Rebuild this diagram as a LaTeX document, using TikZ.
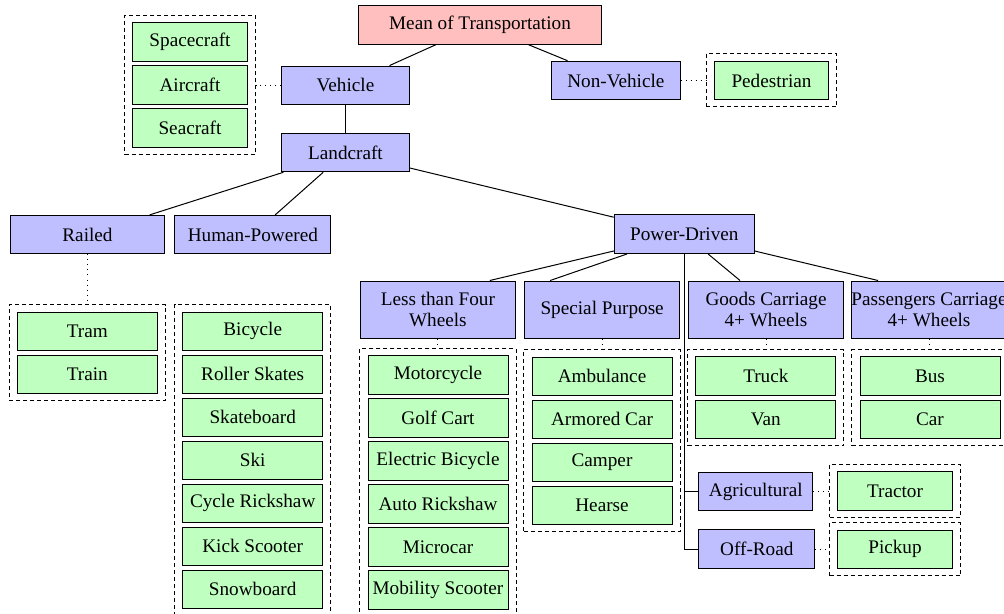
\documentclass[tikz,border=0pt]{standalone}
\usepackage{fontspec}
\setmainfont{Liberation Serif}
\usetikzlibrary{fit,calc}
\definecolor{cred}{RGB}{255,191,191}
\definecolor{cblue}{RGB}{191,191,255}
\definecolor{cgreen}{RGB}{191,255,191}
\begin{document}
\begin{tikzpicture}[x=0.5pt,y=-0.5pt,
  boxbase/.style={draw=black, line width=0.5pt, inner sep=0pt, align=center,
                  font=\fontsize{9.6}{10.6}\selectfont},
  redbox/.style={boxbase, fill=cred, minimum height=19.2pt},
  bluebox/.style={boxbase, fill=cblue, minimum height=19.3pt},
  tallbox/.style={boxbase, fill=cblue, minimum width=77.8pt, minimum height=28.7pt},
  leaf/.style={boxbase, fill=cgreen, minimum width=70pt, minimum height=19.2pt},
  smallleaf/.style={boxbase, fill=cgreen, minimum width=57.3pt, minimum height=19.2pt},
  grpbox/.style={draw=black, dash pattern=on 2pt off 1.5pt, line width=0.5pt,
                 inner xsep=3.8pt, inner ysep=3.4pt},
  solidlink/.style={line width=0.5pt},
  dotlink/.style={line width=0.5pt, dotted}]

\useasboundingbox (0,0) rectangle (1004,614);
\clip (0,0) rectangle (1004,614);

% top levels
\node[redbox, minimum width=121.7pt] (mean) at (480,24.85) {Mean of Transportation};
\node[bluebox, minimum width=63.8pt] (veh) at (345.5,85.35) {Vehicle};
\node[bluebox, minimum width=63.8pt] (land) at (345.5,152.5) {Landcraft};
\node[bluebox, minimum width=64.2pt] (nonveh) at (615.85,80.5) {Non-Vehicle};

\node[smallleaf] (ped) at (771.5,80.5) {Pedestrian};
\node[grpbox, fit=(ped)] (pedgrp) {};

\node[smallleaf] (space) at (190,42.2) {Spacecraft};
\node[smallleaf] (air) at (190,85.2) {Aircraft};
\node[smallleaf] (sea) at (190,128.2) {Seacraft};
\node[grpbox, fit=(space)(sea)] (airgrp) {};

% level 2
\node[bluebox, minimum width=76.8pt] (railed) at (87.5,234.7) {Railed};
\node[bluebox, minimum width=77.9pt] (human) at (252.85,234.7) {Human-Powered};
\node[bluebox, minimum width=70pt] (power) at (684.3,234.2) {Power-Driven};

% railed leaves
\node[leaf] (tram) at (87.3,331.2) {Tram};
\node[leaf] (train) at (87.3,374.2) {Train};
\node[grpbox, fit=(tram)(train)] (railgrp) {};

% human-powered leaves
\node[leaf] (bicycle) at (252.7,331.2) {Bicycle};
\node[leaf] (roller) at (252.7,374.2) {Roller Skates};
\node[leaf] (skate) at (252.7,417.2) {Skateboard};
\node[leaf] (ski) at (252.7,460.2) {Ski};
\node[leaf] (cycler) at (252.7,503.2) {Cycle Rickshaw};
\node[leaf] (kick) at (252.7,546.2) {Kick Scooter};
\node[leaf] (snow) at (252.7,589.2) {Snowboard};
\node[grpbox, fit=(bicycle)(snow)] (humangrp) {};

% level 3
\node[tallbox] (ltfw) at (437.85,309.7) {Less than Four\\Wheels};
\node[tallbox] (sp) at (602.15,309.7) {Special Purpose};
\node[tallbox] (gc) at (766,309.7) {Goods Carriage\\4+ Wheels};
\node[tallbox] (pc) at (929,309.7) {Passengers Carriage\\4+ Wheels};

% less than four wheels leaves
\node[leaf] (moto) at (438,374.9) {Motorcycle};
\node[leaf] (golf) at (438,417.9) {Golf Cart};
\node[leaf] (ebike) at (438,460.9) {Electric Bicycle};
\node[leaf] (auto) at (438,503.9) {Auto Rickshaw};
\node[leaf] (micro) at (438,546.9) {Microcar};
\node[leaf] (mob) at (438,589.9) {Mobility Scooter};
\node[grpbox, fit=(moto)(mob)] (ltfwgrp) {};

% special purpose leaves
\node[leaf] (amb) at (602,376.2) {Ambulance};
\node[leaf] (armor) at (602,419.2) {Armored Car};
\node[leaf] (camper) at (602,462.2) {Camper};
\node[leaf] (hearse) at (602,505.2) {Hearse};
\node[grpbox, fit=(amb)(hearse)] (spgrp) {};

% goods carriage leaves
\node[leaf] (truck) at (765.85,376) {Truck};
\node[leaf] (van) at (765.85,419.2) {Van};
\node[grpbox, fit=(truck)(van)] (gcgrp) {};

% passengers carriage leaves
\node[leaf] (bus) at (930,376) {Bus};
\node[leaf] (car) at (930,419.2) {Car};
\node[grpbox, fit=(bus)(car)] (pcgrp) {};

% agricultural / off-road
\node[bluebox, minimum width=57pt, anchor=west] (agri) at (698.3,491.5) {Agricultural};
\node[bluebox, minimum width=58pt, anchor=west] (offroad) at (698.3,549.2) {Off-Road};
\node[smallleaf] (tractor) at (895,490.9) {Tractor};
\node[grpbox, fit=(tractor)] (tractgrp) {};
\node[smallleaf] (pickup) at (895,549.2) {Pickup};
\node[grpbox, fit=(pickup)] (pickgrp) {};

% solid connectors
\draw[solidlink] (mean) -- (veh);
\draw[solidlink] (mean) -- (nonveh);
\draw[solidlink] (veh) -- (land);
\draw[solidlink] (land) -- (railed);
\draw[solidlink] (land) -- (human);
\draw[solidlink] (land) -- (power);
\coordinate (tltfw) at ($(ltfw.north)+(52,0)$);
\coordinate (tsp) at ($(sp.north)+(-52,0)$);
\coordinate (tgc) at ($(gc.north)+(-26,0)$);
\coordinate (tpc) at ($(pc.north)+(-51,0)$);
\draw[solidlink] (power) -- (tltfw);
\draw[solidlink] (power) -- (tsp);
\draw[solidlink] (power) -- (tgc);
\draw[solidlink] (power) -- (tpc);
\draw[solidlink] (power.south) |- (agri.west);
\draw[solidlink] (power.south) |- (offroad.west);

% dotted connectors
\draw[dotlink] (veh.west) -- (veh.west -| airgrp.east);
\draw[dotlink] (nonveh.east) -- (nonveh.east -| pedgrp.west);
\draw[dotlink] (railed.south) -- (railed.south |- railgrp.north);
\draw[dotlink] (ltfw.south) -- (ltfw.south |- ltfwgrp.north);
\draw[dotlink] (sp.south) -- (sp.south |- spgrp.north);
\draw[dotlink] (gc.south) -- (gc.south |- gcgrp.north);
\draw[dotlink] (pc.south) -- (pc.south |- pcgrp.north);
\draw[dotlink] (agri.east) -- (agri.east -| tractgrp.west);
\draw[dotlink] (offroad.east) -- (offroad.east -| pickgrp.west);
\end{tikzpicture}
\end{document}
